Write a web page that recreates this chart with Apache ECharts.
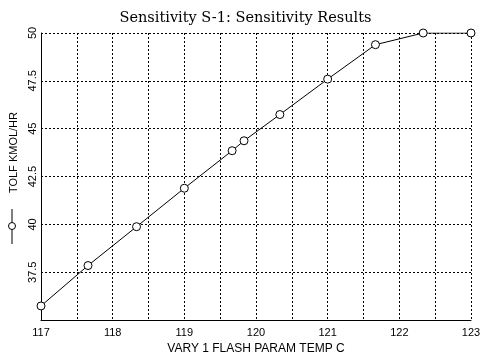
<!DOCTYPE html>
<html><head><meta charset="utf-8">
<script src="https://cdn.jsdelivr.net/npm/echarts@6/dist/echarts.min.js"></script>
<style>html,body{margin:0;padding:0;background:#fff}#c{width:491px;height:360px}</style>
</head><body><div id="c"></div>
<script>
const titleText = 'Sensitivity S-1: Sensitivity Results';
const xName = 'VARY 1 FLASH PARAM TEMP C';
const yName = 'TOLF KMOL/HR';
const xValues = [117, 117.656, 118.333, 119, 119.667, 119.833, 120.333, 121, 121.667, 122.333, 123];
const tolf = [35.74, 37.85, 39.88, 41.89, 43.85, 44.37, 45.74, 47.59, 49.39, 50, 50];

const chart = echarts.init(document.getElementById('c'), null, {renderer: 'canvas'});
const grid = {left: 34, right: 20, top: 33, bottom: 35};
const gridLine = {show: true, lineStyle: {color: '#000', width: 1, type: [2, 2]}};
chart.setOption({
  animation: false,
  backgroundColor: '#fff',
  title: {text: titleText, left: 'center', top: 6,
    textStyle: {fontFamily: 'DejaVu Serif', fontSize: 14.5, fontWeight: 'normal', color: '#000'}},
  grid: grid,
  xAxis: {type: 'value', min: 117, max: 123, interval: 0.5,
    name: xName, nameLocation: 'middle', nameGap: 20,
    nameTextStyle: {fontFamily: 'Liberation Sans', fontSize: 12, color: '#000'},
    axisLine: {show: true, lineStyle: {color: '#000', width: 1}},
    axisTick: {show: false},
    splitLine: gridLine,
    axisLabel: {margin: 7, color: '#000', fontFamily: 'Liberation Sans', fontSize: 11,
      formatter: v => Number.isInteger(v) ? String(v) : ''}},
  yAxis: {type: 'value', min: 35, max: 50, interval: 2.5,
    name: yName, nameLocation: 'middle', nameGap: 22, nameRotate: 90,
    nameTextStyle: {fontFamily: 'Liberation Sans', fontSize: 11, color: '#000', padding: [0, 0, 0, 48]},
    axisLine: {show: true, lineStyle: {color: '#000', width: 1}},
    axisTick: {show: false},
    splitLine: gridLine,
    axisLabel: {rotate: 90, margin: 3, color: '#000', fontFamily: 'Liberation Sans', fontSize: 11,
      showMinLabel: false}},
  graphic: [
    {type: 'line', shape: {x1: 12, y1: 209, x2: 12, y2: 244}, style: {stroke: '#000', lineWidth: 1}},
    {type: 'circle', shape: {cx: 12, cy: 226, r: 3.5}, style: {fill: '#fff', stroke: '#000', lineWidth: 1}}
  ],
  series: [{type: 'line', data: xValues.map((x, i) => [x, tolf[i]]),
    symbol: 'circle', symbolSize: 8,
    lineStyle: {color: '#000', width: 1},
    itemStyle: {color: '#fff', borderColor: '#000', borderWidth: 1}}]
});
</script></body></html>
